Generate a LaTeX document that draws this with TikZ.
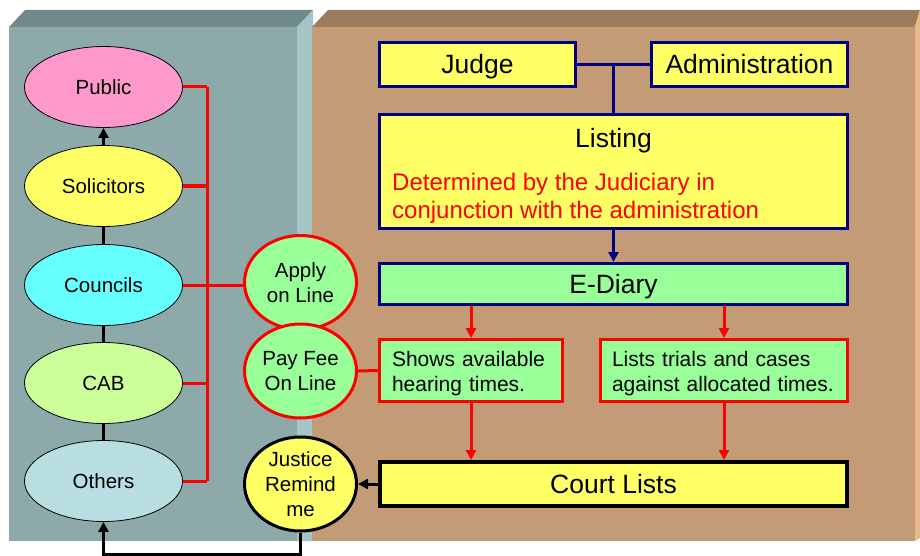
\documentclass[tikz,border=0pt]{standalone}
\usepackage{fontspec}
\setmainfont{Liberation Sans}
\usetikzlibrary{shapes.geometric, arrows.meta}

\begin{document}
\begin{tikzpicture}[x=1pt, y=-1pt, >={Triangle[length=10pt, width=10pt]},
        bubble/.style={ellipse, draw=black, line width=0.8pt, minimum width=158pt, minimum height=81pt, inner sep=0pt, font=\fontsize{20.5}{25}\selectfont},
        disc/.style={ellipse, line width=3pt, minimum width=112pt, minimum height=94pt, inner sep=0pt, align=center, text depth=0pt, font=\fontsize{20.5}{25}\selectfont},
        navybox/.style={rectangle, draw=navycolor, line width=3pt, inner sep=0pt, text height=19pt, text depth=0pt, font=\fontsize{26.5}{30}\selectfont},
        notebox/.style={rectangle, draw=red, line width=3pt, fill=greencolor, inner sep=0pt, minimum height=62pt, align=left, text depth=23pt, font=\fontsize{21}{25}\selectfont},
        link/.style={black, line width=3.5pt},
        redline/.style={red, line width=3pt},
        navyline/.style={navycolor, line width=3pt}]
    \definecolor{leftfront}{RGB}{141, 169, 170}
    \definecolor{lefttop}{RGB}{112, 137, 138}
    \definecolor{leftside}{RGB}{164, 196, 198}
    \definecolor{rightfront}{RGB}{195, 155, 118}
    \definecolor{righttop}{RGB}{155, 124, 95}
    \definecolor{rightside}{RGB}{232, 186, 138}
    \definecolor{navycolor}{RGB}{0, 0, 128}
    \definecolor{yellowcolor}{RGB}{255, 255, 102}
    \definecolor{greencolor}{RGB}{153, 255, 153}
    \definecolor{pubcolor}{RGB}{255, 153, 204}
    \definecolor{councolor}{RGB}{102, 255, 255}
    \definecolor{cabcolor}{RGB}{204, 255, 153}
    \definecolor{othcolor}{RGB}{184, 222, 226}

    \useasboundingbox (0,0) rectangle (920,556);

    \fill[leftfront] (9,27) rectangle (297,541);
    \fill[lefttop] (9,27) -- (25,10) -- (313,10) -- (297,27) -- cycle;
    \fill[leftside] (297,27) -- (313,10) -- (313,541) -- (297,541) -- cycle;
    \fill[rightfront] (312,27) rectangle (915,541);
    \fill[righttop] (312,27) -- (328,10) -- (920,10) -- (915,27) -- cycle;
    \fill[rightside] (915,27) -- (920,10) -- (920,538) -- (915,541) -- cycle;

    \foreach \name/\y/\col/\txt in {public/87/pubcolor/Public, solic/186/yellowcolor/Solicitors, council/285/councolor/Councils, cab/383/cabcolor/CAB, others/481/othcolor/Others} {
            \node[bubble, fill=\col] (\name) at (103.5,\y) {\txt};
        }

    \node[disc, draw=red, fill=greencolor] (apply) at (300.5,282.5) {Apply\\on Line};
    \node[disc, draw=red, fill=greencolor] (payfee) at (300.5,371) {Pay Fee\\On Line};
    \node[disc, draw=black, fill=yellowcolor] (justice) at (300.5,484) {Justice\\Remind\\me};

    \node[navybox, fill=yellowcolor, minimum width=196pt, minimum height=44pt] (judge) at (477.5,64.5) {Judge};
    \node[navybox, fill=yellowcolor, minimum width=196pt, minimum height=44pt] (admin) at (749.5,64.5) {Administration};
    \node[navybox, fill=yellowcolor, minimum width=468pt, minimum height=114pt] (listing) at (613.5,171.5) {};
    \node[text height=19pt, text depth=0pt, font=\fontsize{26.5}{30}\selectfont] (listtitle) at (613.5,138) {Listing};
    \node[red, anchor=west, align=left, inner sep=0pt, font=\fontsize{24}{28}\selectfont] (listnote) at (392,198) {Determined by the Judiciary in\\conjunction with the administration};
    \node[navybox, fill=greencolor, minimum width=468pt, minimum height=41pt] (ediary) at (613.5,284) {E-Diary};
    \node[notebox, minimum width=183pt, text width=158pt] (shows) at (471,370.5) {Shows available\\hearing times.};
    \node[notebox, minimum width=247pt, text width=224pt] (lists) at (724,370.5) {Lists trials and cases\\against allocated times.};
    \node[navybox, draw=black, line width=4pt, fill=yellowcolor, minimum width=467pt, minimum height=44pt] (court) at (613.5,484) {Court Lists};

    \coordinate (bustop) at (207,87);
    \coordinate (busbot) at (207,481);
    \draw[redline] (bustop) -- (busbot);
    \foreach \n in {public, solic, cab, others} {
            \draw[redline] (\n.east) -- (\n.east -| bustop);
        }
    \draw[redline] (council.east) -- (council.east -| apply.west);
    \draw[redline] (payfee.east) -- (shows.west);

    \foreach \a/\b in {others/cab, cab/council, council/solic} {
            \draw[link] (\a) -- (\b);
        }
    \draw[link, ->] (solic) -- (public);

    \draw[navyline] (judge.east) -- (admin.west);
    \draw[navyline] (listing.north) -- (listing.north |- judge.east);
    \draw[navyline, ->] (listing) -- (ediary);

    \foreach \n in {shows, lists} {
            \draw[redline, ->] (\n.north |- ediary.south) -- (\n.north);
            \draw[redline, ->] (\n.south) -- (\n.south |- court.north);
        }

    \draw[link, line width=3pt, ->] (court.west) -- (justice.east);
    \draw[link, line width=3pt, ->] (justice.south) -- ++(0,22) -| (others.south);
\end{tikzpicture}
\end{document}
